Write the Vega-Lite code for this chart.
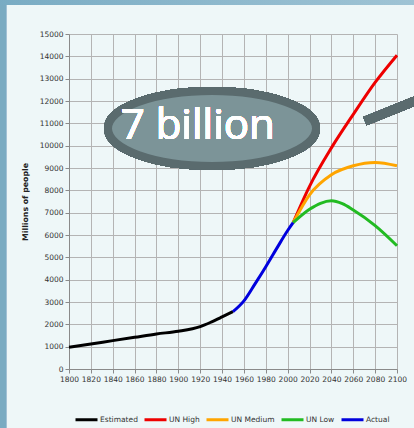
{
  "$schema": "https://vega.github.io/schema/vega-lite/v6.json",
  "width": 328,
  "height": 335,
  "autosize": {"type": "none"},
  "padding": {"left": 69, "top": 34, "right": 17, "bottom": 59},
  "background": "#eef7f8",
  "config": {
    "view": {"stroke": null},
    "axis": {
      "grid": true,
      "labelOverlap": false,
      "labelFlush": false,
      "labelFont": "DejaVu Sans",
      "labelFontSize": 7.5,
      "labelColor": "#333333",
      "gridColor": "#b4b4b4",
      "gridWidth": 1,
      "gridOpacity": 1,
      "domainColor": "#8a8a8a",
      "tickColor": "#8a8a8a",
      "tickSize": 4,
      "labelPadding": 2
    }
  },
  "data": {
    "values": [
      {"series": "Estimated", "year": 1800, "pop": 970},
      {"series": "Estimated", "year": 1820, "pop": 1120},
      {"series": "Estimated", "year": 1840, "pop": 1270},
      {"series": "Estimated", "year": 1860, "pop": 1420},
      {"series": "Estimated", "year": 1880, "pop": 1570},
      {"series": "Estimated", "year": 1900, "pop": 1690},
      {"series": "Estimated", "year": 1920, "pop": 1900},
      {"series": "Estimated", "year": 1930, "pop": 2100},
      {"series": "Estimated", "year": 1940, "pop": 2330},
      {"series": "Estimated", "year": 1950, "pop": 2570},
      {"series": "UN High", "year": 2005, "pop": 6550},
      {"series": "UN High", "year": 2020, "pop": 8180},
      {"series": "UN High", "year": 2040, "pop": 9900},
      {"series": "UN High", "year": 2060, "pop": 11400},
      {"series": "UN High", "year": 2080, "pop": 12830},
      {"series": "UN High", "year": 2100, "pop": 14050},
      {"series": "UN Medium", "year": 2005, "pop": 6550},
      {"series": "UN Medium", "year": 2020, "pop": 7800},
      {"series": "UN Medium", "year": 2040, "pop": 8700},
      {"series": "UN Medium", "year": 2060, "pop": 9100},
      {"series": "UN Medium", "year": 2080, "pop": 9250},
      {"series": "UN Medium", "year": 2100, "pop": 9100},
      {"series": "UN Low", "year": 2005, "pop": 6550},
      {"series": "UN Low", "year": 2020, "pop": 7150},
      {"series": "UN Low", "year": 2030, "pop": 7420},
      {"series": "UN Low", "year": 2040, "pop": 7530},
      {"series": "UN Low", "year": 2050, "pop": 7400},
      {"series": "UN Low", "year": 2060, "pop": 7120},
      {"series": "UN Low", "year": 2080, "pop": 6420},
      {"series": "UN Low", "year": 2100, "pop": 5520},
      {"series": "Actual", "year": 1950, "pop": 2570},
      {"series": "Actual", "year": 1960, "pop": 3050},
      {"series": "Actual", "year": 1970, "pop": 3800},
      {"series": "Actual", "year": 1980, "pop": 4580},
      {"series": "Actual", "year": 1990, "pop": 5400},
      {"series": "Actual", "year": 2000, "pop": 6200},
      {"series": "Actual", "year": 2005, "pop": 6550}
    ]
  },
  "layer": [
    {
      "mark": {"type": "line", "strokeWidth": 3, "interpolate": "monotone"},
      "encoding": {
        "x": {"field": "year", "type": "quantitative", "scale": {"domain": [1800, 2100], "nice": false, "zero": false},
          "axis": {"title": null, "tickCount": 20, "labelFlush": false, "values": [1800, 1820, 1840, 1860, 1880, 1900, 1920, 1940, 1960, 1980, 2000, 2020, 2040, 2060, 2080, 2100], "format": "d"}},
        "y": {"field": "pop", "type": "quantitative", "scale": {"domain": [0, 15000], "nice": false},
          "axis": {"title": "Millions of people", "tickCount": 20, "labelFlush": false, "titleFont": "DejaVu Sans", "titleFontSize": 7.8, "titleFontWeight": "bold", "titleColor": "#222222", "titlePadding": 10, "values": [0, 1000, 2000, 3000, 4000, 5000, 6000, 7000, 8000, 9000, 10000, 11000, 12000, 13000, 14000, 15000], "format": "d"}},
        "color": {
          "field": "series", "type": "nominal",
          "scale": {"domain": ["Estimated", "UN High", "UN Medium", "UN Low", "Actual"], "range": ["#000000", "#ee0000", "#ffa500", "#22bb22", "#0000dd"]},
          "legend": {"orient": "none", "legendX": 5, "legendY": 373, "direction": "horizontal", "columns": 5, "title": null, "symbolType": "stroke", "symbolSize": 484, "symbolStrokeWidth": 3, "labelFont": "DejaVu Sans", "labelFontSize": 7.5, "labelColor": "#333333", "labelOffset": 1, "columnPadding": 0}
        }
      }
    },
    {
      "mark": {"type": "rect", "fill": "#7aabc2"},
      "encoding": {
        "x": {"datum": 1727, "type": "quantitative", "scale": {"domain": [1800, 2100], "nice": false, "zero": false}},
        "x2": {"datum": 1742.4},
        "y": {"datum": 17000, "type": "quantitative", "scale": {"domain": [0, 15000], "nice": false}},
        "y2": {"datum": -3300}
      }
    },
    {
      "mark": {"type": "rect", "fill": {"gradient": "linear", "x1": 0, "x2": 1, "y1": 0, "y2": 0, "stops": [{"offset": 0, "color": "#78abc3"}, {"offset": 1, "color": "#a0c4d5"}]}},
      "encoding": {
        "x": {"datum": 1727, "type": "quantitative", "scale": {"domain": [1800, 2100], "nice": false, "zero": false}},
        "x2": {"datum": 2125},
        "y": {"datum": 17000, "type": "quantitative", "scale": {"domain": [0, 15000], "nice": false}},
        "y2": {"datum": 16300}
      }
    },
    {
      "mark": {"type": "point", "shape": "M -1 0 A 1 0.36 0 1 0 1 0 A 1 0.36 0 1 0 -1 0 Z", "size": 43264, "filled": true, "fill": "#7c9498", "stroke": "#5a6b6e", "strokeWidth": 8, "opacity": 1, "fillOpacity": 1, "strokeOpacity": 1},
      "encoding": {
        "x": {"datum": 1930.8, "type": "quantitative", "scale": {"domain": [1800, 2100], "nice": false, "zero": false}},
        "y": {"datum": 10770, "type": "quantitative", "scale": {"domain": [0, 15000], "nice": false}}
      }
    },
    {
      "mark": {"type": "text", "text": "7 billion", "font": "Open Sans", "fontSize": 42, "color": "#ffffff", "align": "left", "baseline": "alphabetic"},
      "encoding": {
        "x": {"datum": 1847.3, "type": "quantitative", "scale": {"domain": [1800, 2100], "nice": false, "zero": false}},
        "y": {"datum": 10300, "type": "quantitative", "scale": {"domain": [0, 15000], "nice": false}}
      }
    },
    {
      "mark": {"type": "rule", "strokeWidth": 9, "color": "#5a6b6e", "strokeCap": "butt"},
      "encoding": {
        "x": {"datum": 2070.7, "type": "quantitative", "scale": {"domain": [1800, 2100], "nice": false, "zero": false}},
        "y": {"datum": 11100, "type": "quantitative", "scale": {"domain": [0, 15000], "nice": false}},
        "x2": {"datum": 2121},
        "y2": {"datum": 12090}
      }
    }
  ]
}
